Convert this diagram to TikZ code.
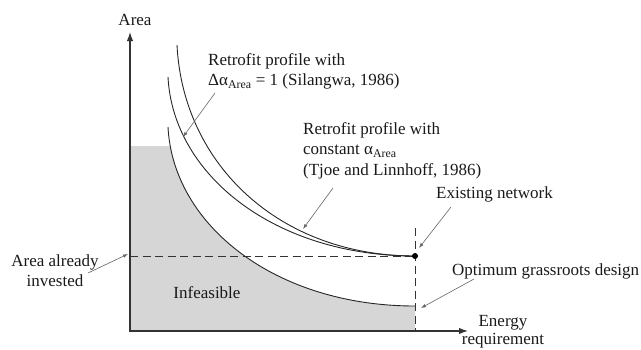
\documentclass[tikz,border=0pt]{standalone}
\usepackage{fontspec}
\setmainfont{Liberation Serif}
\usetikzlibrary{arrows,arrows.meta,positioning}

\tikzset{
  curve/.style={draw=black!85,line width=0.9pt},
  axis/.style={draw=black!80,line width=1.3pt},
  pointer/.style={draw=black!60,line width=0.6pt,-{Latex[length=5pt,width=3.5pt]}},
  guide/.style={draw=black!80,line width=0.9pt,dash pattern=on 8pt off 4.5pt},
  lbl/.style={inner sep=0pt,font=\fontsize{17}{20.5}\selectfont,text=black!90}
}

\begin{document}
\begin{tikzpicture}[x=1pt,y=1pt,yscale=-1]
  \useasboundingbox (0,0) rectangle (641,349);

  % shaded infeasible region
  \begin{scope}
    \clip (130,146) rectangle (415,331);
    \path[fill=black!16] (168,127) .. controls (173,225) and (275,306) ..
      (415,306) -- (415,340) -- (120,340) -- (120,127) -- cycle;
  \end{scope}

  % existing area and energy
  \coordinate (origin) at (130,331);
  \coordinate (ytip) at (130,32);
  \coordinate (xtip) at (468,331);
  \coordinate (invLeft) at (130,256);
  \coordinate (dashTop) at (415,228);
  \coordinate (dashBot) at (415,331);
  \path[guide] (invLeft) -- (415,256);
  \path[guide] (dashTop) -- (dashBot);

  % curves
  \path[curve] (168,127) .. controls (173,225) and (275,306) .. (415,306);
  \path[curve] (168,77) .. controls (173,175) and (275,256) .. (415,256);
  \path[curve] (177,45) .. controls (183,165) and (280,256) .. (415,256);

  % axes
  \path[axis,{Latex[length=9pt,width=6.5pt]}-{Latex[length=9pt,width=6.5pt]}]
    (ytip) -- (origin) -- (xtip);

  \node[circle,fill=black,inner sep=0pt,minimum size=6pt] (exist) at (415,256) {};

  % labels
  \node[lbl,anchor=base] (areaLbl) at (135,25) {Area};
  \node[lbl,anchor=north west,align=left] (silangwa) at (208,53)
    {Retrofit profile with\\ Δα\textsubscript{Area} = 1 (Silangwa, 1986)};
  \node[lbl,anchor=north west,align=left] (tjoe) at (303,122)
    {Retrofit profile with\\ constant α\textsubscript{Area}\\ (Tjoe and Linnhoff, 1986)};
  \node[lbl,anchor=base west] (existing) at (436,198) {Existing network};
  \node[lbl,anchor=base west] (optimum) at (452,275) {Optimum grassroots design};
  \node[lbl,anchor=north,align=center,font=\fontsize{17}{18}\selectfont]
    (energy) at (503,315) {Energy\\ requirement};
  \node[lbl,anchor=north,align=center] (invested) at (55,254) {Area already\\ invested};
  \node[lbl,anchor=base] (infeasible) at (207,298) {Infeasible};

  % pointers
  \coordinate (silTail) at (215,93);
  \coordinate (silHead) at (183,137);
  \coordinate (tjoeTail) at (333,188);
  \coordinate (tjoeHead) at (303,229);
  \coordinate (exTail) at (451,207);
  \coordinate (exHead) at (419,248);
  \coordinate (optTail) at (474,279);
  \coordinate (optHead) at (421,308);
  \coordinate (invTail) at (88,273);
  \coordinate (invHead) at (128,254);
  \path[pointer] (silTail) -- (silHead);
  \path[pointer] (tjoeTail) -- (tjoeHead);
  \path[pointer] (exTail) -- (exHead);
  \path[pointer] (optTail) -- (optHead);
  \path[pointer] (invTail) -- (invHead);

\end{tikzpicture}
\end{document}
